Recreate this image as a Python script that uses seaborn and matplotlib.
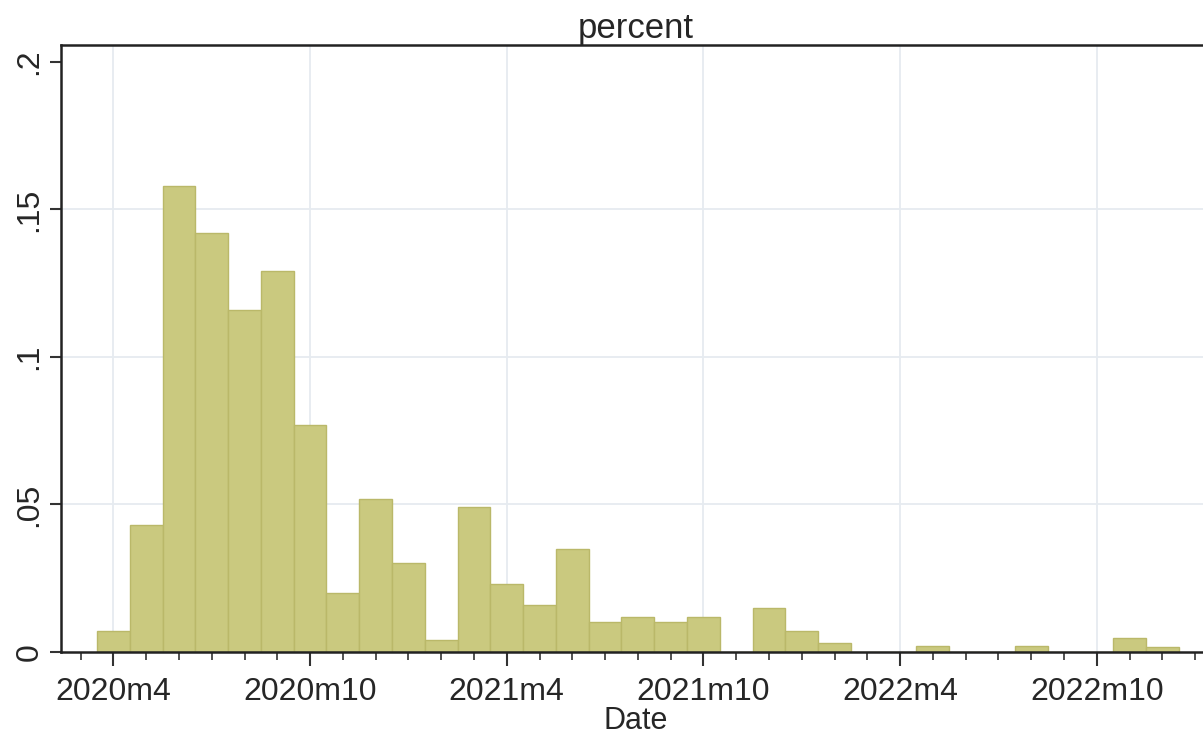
import pandas as pd
import matplotlib.pyplot as plt
import seaborn as sns
from matplotlib.ticker import FixedLocator

# monthly share of cases (fraction), 2020m4 .. 2022m12
start_month = "2020-04"
end_month = "2022-12"
share = [0.007, 0.043, 0.158, 0.142, 0.116, 0.129, 0.077, 0.020, 0.052,
         0.030, 0.004, 0.049, 0.023, 0.016, 0.035, 0.010, 0.012, 0.010,
         0.012, 0.0, 0.015, 0.007, 0.003, 0.0, 0.0, 0.002, 0.0, 0.0,
         0.002, 0.0, 0.0, 0.0047, 0.0018]

y_ticks = [0, 0.05, 0.1, 0.15, 0.2]
y_labels = ["0", ".05", ".1", ".15", ".2"]
major_months = ["2020-04", "2020-10", "2021-04", "2021-10", "2022-04", "2022-10"]

periods = pd.period_range(start_month, end_month, freq="M")
df = pd.DataFrame({"month": [p.ordinal for p in periods], "share": share})

sns.set_theme(style="white")
plt.rcParams["font.family"] = ["Liberation Sans", "DejaVu Sans"]

fig = plt.figure(figsize=(12.03, 7.35), dpi=100)
ax = fig.add_axes([0.0507, 0.113, 0.955, 0.826])

sns.histplot(data=df, x="month", weights="share", discrete=True, ax=ax,
             color="#cac97f", edgecolor="#bab869", linewidth=1.0, alpha=1.0)

# x axis: major ticks every 6 months, minor ticks monthly
major_pos = [pd.Period(m, freq="M").ordinal for m in major_months]
major_lab = [f"{pd.Period(m, freq='M').year}m{pd.Period(m, freq='M').month}" for m in major_months]
ax.set_xticks(major_pos)
ax.set_xticklabels(major_lab, fontsize=23)
ax.xaxis.set_minor_locator(FixedLocator(list(range(df["month"].min() - 1, df["month"].max() + 2))))
ax.set_xlim(df["month"].min() - 1.6, df["month"].max() + 1.45)

ax.set_yticks(y_ticks)
ax.set_yticklabels(y_labels, fontsize=23, rotation=90, va="center")
ax.set_ylim(0, 0.2058)

ax.tick_params(axis="x", which="major", length=10, width=1.5, color="#333333", bottom=True, pad=8)
ax.tick_params(axis="x", which="minor", length=6, width=1.2, color="#333333", bottom=True)
ax.tick_params(axis="y", which="major", length=8, width=1.5, color="#333333", left=True, pad=4)

# light grid lines like Stata
for v in y_ticks[1:-1]:
    ax.axhline(v, color="#e6ebf0", linewidth=1.3, zorder=0)
for v in major_pos:
    ax.axvline(v, color="#e6ebf0", linewidth=1.3, zorder=0)
ax.set_axisbelow(True)

for side in ["left", "bottom", "top"]:
    ax.spines[side].set_color("#222222")
    ax.spines[side].set_linewidth(1.8)
ax.spines["right"].set_visible(False)

ax.set_title("percent", fontsize=25, pad=4)
ax.set_xlabel("Date", fontsize=22, labelpad=-1)
ax.set_ylabel("")

plt.savefig("out.png", dpi=100)
